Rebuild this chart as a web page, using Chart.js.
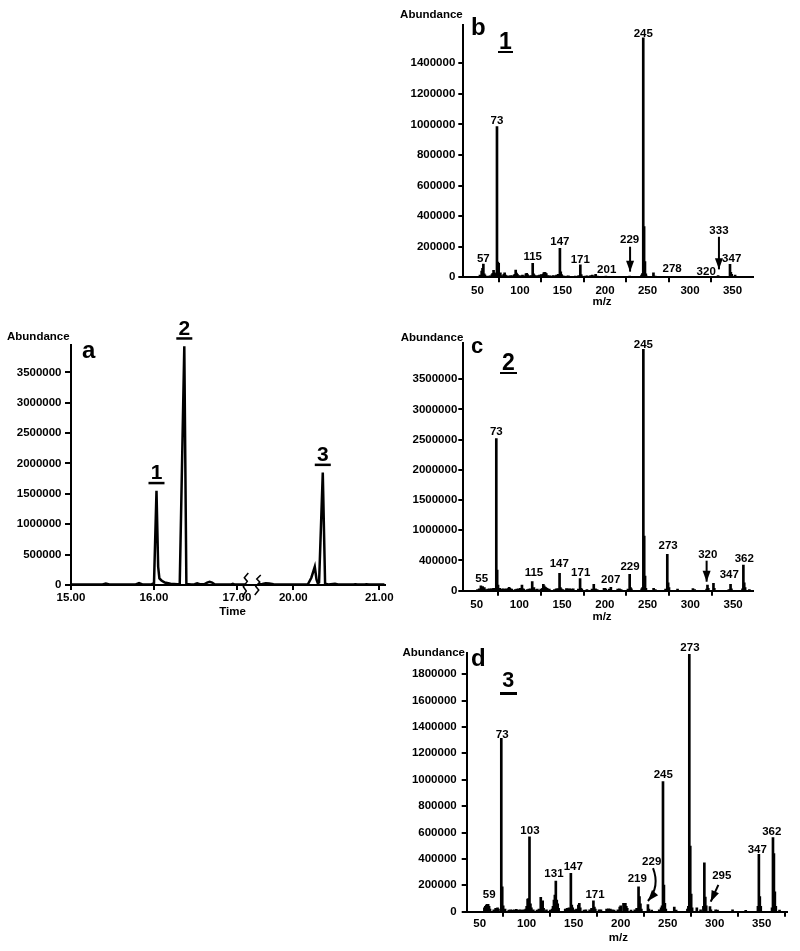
<!DOCTYPE html>
<html><head><meta charset="utf-8">
<script src="https://cdn.jsdelivr.net/npm/chart.js@4.4.1/dist/chart.umd.min.js"></script>
<style>
html,body{margin:0;padding:0;background:#fff;}
body{width:800px;height:951px;position:relative;overflow:hidden;font-family:"Liberation Sans",Arial,Helvetica,sans-serif;font-weight:bold;color:#000;}
canvas{position:absolute;}
.t{position:absolute;font-size:11.5px;line-height:11.5px;white-space:nowrap;z-index:2;}
.c{transform:translateX(-50%);}
.big{position:absolute;font-size:24px;line-height:24px;z-index:2;}
.num{position:absolute;font-size:23px;line-height:23px;z-index:2;transform:translateX(-50%);}
.ul{position:absolute;background:#000;z-index:2;}
</style></head><body>
<canvas id="ca" width="400" height="300" style="left:0;top:320px"></canvas>
<canvas id="cb" width="400" height="310" style="left:400px;top:0"></canvas>
<canvas id="cc" width="400" height="300" style="left:400px;top:320px"></canvas>
<canvas id="cd" width="400" height="321" style="left:400px;top:630px"></canvas>

<div class="t" style="left:7px;top:331px">Abundance</div>
<div class="t" style="right:337.3px;top:9.3px">Abundance</div>
<div class="t" style="right:336.7px;top:331.7px">Abundance</div>
<div class="t" style="right:335px;top:646.7px">Abundance</div>
<div class="t c" style="left:232.5px;top:606.3px">Time</div>
<div class="t c" style="left:602px;top:296px">m/z</div>
<div class="t c" style="left:602px;top:611px">m/z</div>
<div class="t c" style="left:618.3px;top:932px">m/z</div>

<div class="big" style="left:82px;top:338px">a</div>
<div class="big" style="left:471px;top:14.7px">b</div>
<div class="big" style="left:471px;top:334.7px;font-size:22px;line-height:22px">c</div>
<div class="big" style="left:471px;top:646.4px">d</div>

<div class="num" style="left:505.3px;top:29.5px">1</div>
<div class="ul" style="left:497.7px;top:50.5px;width:15.6px;height:2.5px"></div>
<div class="num" style="left:508.3px;top:350.5px">2</div>
<div class="ul" style="left:500px;top:371.5px;width:16.7px;height:2.7px"></div>
<div class="num" style="left:508.3px;top:670px;font-size:21.5px;line-height:21.5px">3</div>
<div class="ul" style="left:500px;top:692px;width:16.7px;height:2.7px"></div>

<script>
// ---------------- DATA ----------------
// (a) total ion chromatogram: retention time (min) and abundance
const chromTime  = [15.00,15.10,15.25,15.38,15.42,15.46,15.60,15.78,15.82,15.86,15.97,16.00,16.03,16.05,16.065,16.09,16.13,16.20,16.28,16.31,16.365,16.39,16.45,16.49,16.52,16.55,16.61,16.64,16.67,16.70,16.73,16.85,16.93,16.95,16.97,17.10,
                    19.59,19.64,19.68,19.72,19.77,19.90,20.10,20.17,20.21,20.25,20.27,20.285,20.30,20.343,20.37,20.41,20.485,20.52,20.70,20.72,20.75,20.83,20.85,20.88,21.06];
const chromAbund = [10000,9000,10000,9000,25000,9000,9000,9000,30000,9000,9000,30000,1550000,300000,110000,75000,40000,22000,12000,15000,3930000,15000,10000,12000,28000,12000,15000,40000,52000,40000,12000,9000,10000,18000,10000,9000,
                    10000,15000,28000,25000,12000,9000,9000,12000,120000,300000,90000,30000,40000,1850000,20000,10000,20000,10000,9000,12000,9000,9000,12000,9000,9000];
const chromTickTimes = [15, 16, 17, 20, 21];
const chromYTicks = [0,500000,1000000,1500000,2000000,2500000,3000000,3500000];
const peakNames  = ['1','2','3'];
const peakTimes  = [16.03, 16.365, 20.343];
const peakAbund  = [1550000, 3930000, 1850000];

// shared m/z ticks
const mzTicks = [50,100,150,200,250,300,350];

// (b) mass spectrum of peak 1
const specB_mz = [53,55,56,57,58,59,63,65,67,68,69,70,71,72,73,74,75,76,77,79,81,82,83,85,87,89,91,93,94,95,96,97,99,101,103,105,107,108,109,111,113,115,116,117,119,121,123,125,127,128,129,130,131,133,135,137,139,141,143,145,147,148,149,151,155,157,161,165,169,171,172,173,177,179,183,185,187,189,191,195,201,205,209,215,221,229,233,241,243,244,245,246,247,248,249,257,259,271,279,291,305,319,333,347,348,349,353,357];
const specB_ab = [15000,40000,59000,87000,22000,15000,8000,10000,18000,26000,45000,30000,12000,25000,985000,100000,92000,20000,30000,12000,20000,29000,15000,10000,8000,12000,10000,15000,20000,48000,28000,20000,12000,10000,15000,10000,22000,26000,18000,10000,12000,91000,22000,15000,10000,12000,15000,18000,20000,30000,32000,30000,25000,12000,10000,8000,12000,10000,15000,20000,190000,35000,18000,10000,8000,10000,6000,8000,12000,82000,18000,8000,8000,10000,12000,15000,10000,20000,8000,6000,8000,5000,6000,6000,5000,8000,5000,6000,15000,25000,1566000,331000,102000,22000,8000,29000,8000,5000,6000,5000,5000,5000,12000,85000,33000,20000,15000,5000];
const specB_yTicks = [0,200000,400000,600000,800000,1000000,1200000,1400000];
const specB_labelText = ['57','73','115','147','171','201','229','245','278','320','333','347'];
const specB_labelMz   = [57,73,115,147,171,202,229,245,279,319,334,349];
const specB_labelAb   = [77000,975000,86000,184000,66000,5000,195000,1548000,7000,-8000,256000,74500];

// (c) mass spectrum of peak 2
const specC_mz = [51,53,55,56,57,58,59,61,63,65,67,69,70,71,72,73,74,75,76,77,79,81,83,85,87,88,89,91,95,97,99,101,103,104,105,109,111,113,115,116,117,119,121,125,127,128,129,130,131,132,133,135,141,143,145,147,148,149,151,155,157,159,161,163,169,171,172,173,179,185,187,189,191,199,200,201,205,207,215,217,219,227,229,230,231,243,244,245,246,247,248,257,259,271,273,274,275,285,303,305,319,320,321,327,328,345,347,348,361,362,363,364,369];
const specC_ab = [20000,30000,80000,50000,70000,40000,50000,20000,25000,30000,30000,35000,40000,25000,30000,2520000,342000,94000,30000,40000,25000,30000,25000,30000,35000,55000,40000,25000,20000,25000,30000,40000,94000,30000,25000,20000,25000,30000,149000,40000,50000,20000,25000,25000,40000,105000,80000,60000,50000,40000,30000,25000,20000,30000,35000,287000,50000,30000,20000,35000,30000,30000,25000,30000,25000,199000,40000,25000,20000,25000,105000,30000,20000,40000,40000,25000,25000,55000,25000,30000,20000,25000,270000,50000,30000,30000,50000,3995000,905000,243000,40000,40000,20000,25000,601000,132000,50000,25000,35000,20000,25000,94000,40000,121000,40000,20000,105000,30000,30000,425000,132000,50000,20000];
const specC_yTicks  = [0,500000,1000000,1500000,2000000,2500000,3000000,3500000];
const specC_yLabels = ['0','400000','1000000','1500000','2000000','2500000','3000000','3500000'];
const specC_labelText = ['55','73','115','147','171','207','229','245','273','320','347','362'];
const specC_labelMz   = [55.9,73,117,146.7,171.7,206.8,229.4,245,274,320.3,345.5,363];
const specC_labelAb   = [70000,2513000,169000,318000,169000,53000,273000,3960000,616000,467000,136000,411000];

// (d) mass spectrum of peak 3
const specD_mz = [55,56,57,58,59,60,61,65,67,69,70,73,74,75,76,77,81,83,85,87,89,91,93,95,97,99,100,101,102,103,104,105,107,111,113,115,116,117,118,121,125,127,128,129,130,131,132,133,134,141,143,145,147,148,149,151,153,155,156,157,161,163,167,169,171,172,173,177,179,185,187,189,191,193,197,199,200,203,204,205,206,207,211,215,217,219,220,221,222,229,230,233,241,243,244,245,246,247,248,257,259,271,272,273,274,275,276,281,285,288,289,290,291,295,296,301,303,319,333,346,347,348,349,361,362,363,364,365,369];
const specD_ab = [30000,40000,50000,56000,56000,40000,20000,15000,25000,30000,20000,1313000,189000,45000,15000,20000,12000,15000,12000,15000,18000,12000,15000,12000,15000,20000,40000,95000,100000,568000,60000,30000,15000,12000,20000,109000,60000,83000,25000,15000,12000,20000,40000,88000,126000,232000,88000,60000,25000,20000,25000,30000,290000,50000,30000,15000,20000,50000,63000,30000,12000,15000,15000,25000,83000,35000,20000,15000,15000,20000,22000,20000,15000,12000,15000,35000,45000,63000,60000,63000,40000,25000,12000,15000,25000,189000,114000,60000,20000,53000,20000,12000,15000,30000,45000,985000,202000,63000,20000,35000,12000,20000,40000,1950000,498000,134000,30000,30000,15000,40000,371000,110000,45000,38000,15000,15000,12000,15000,10000,40000,435000,114000,40000,30000,561000,440000,150000,40000,12000];
const specD_yTicks = [0,200000,400000,600000,800000,1000000,1200000,1400000,1600000,1800000];
const specD_labelText = ['59','73','103','131','147','171','219','229','245','273','295','347','362'];
const specD_labelMz   = [60.2,74,103.5,129,149.6,172.7,217.7,233,245.3,273.7,307.5,345.3,360.7];
const specD_labelAb   = [72000,1289000,557000,229000,284000,77000,191000,324000,981000,1946000,216000,411000,552000];

// arrows (data units): start -> tip, optional control point for curves
const specB_arrows = [{x1:229.5,y1:200000,x2:229.5,y2:37000},{x1:334,y1:265000,x2:334,y2:52000}];
const specC_arrows = [{x1:319,y1:497000,x2:319,y2:149000}];
const specD_arrows = [{x1:234.4,y1:330000,cx:242,cy:190000,x2:229,y2:81000},{x1:303.9,y1:203000,x2:295.8,y2:76000}];

// ---------------- RENDER ----------------
const FONT = '"Liberation Sans", Arial, Helvetica, sans-serif';
Chart.defaults.font.family = FONT;
Chart.defaults.font.weight = 'bold';
Chart.defaults.font.size = 11.5;
Chart.defaults.color = '#000';

// broken time axis: 15-17.1 min, then 19.6-21 min
function axisPos(t){ return t <= 18 ? t : 17.678 + (t - 20) * 1.036; }

function head(ctx, x, y, ang, len, w){
  ctx.beginPath();
  ctx.moveTo(x, y);
  ctx.lineTo(x - len*Math.cos(ang) + w/2*Math.sin(ang), y - len*Math.sin(ang) - w/2*Math.cos(ang));
  ctx.lineTo(x - len*Math.cos(ang) - w/2*Math.sin(ang), y - len*Math.sin(ang) + w/2*Math.cos(ang));
  ctx.closePath(); ctx.fill();
}

function annot(texts, xsv, ysv, arrows){
  return { id:'annot', afterDatasetsDraw(chart){
    const ctx = chart.ctx, X = chart.scales.x, Y = chart.scales.y;
    ctx.save();
    ctx.fillStyle = '#000'; ctx.strokeStyle = '#000'; ctx.lineWidth = 2;
    ctx.font = 'bold 11.5px ' + FONT; ctx.textAlign = 'center'; ctx.textBaseline = 'alphabetic';
    texts.forEach((t,i)=> ctx.fillText(t, X.getPixelForValue(xsv[i]), Y.getPixelForValue(ysv[i]) - 4));
    arrows.forEach(a=>{
      const x1 = X.getPixelForValue(a.x1), y1 = Y.getPixelForValue(a.y1);
      const x2 = X.getPixelForValue(a.x2), y2 = Y.getPixelForValue(a.y2);
      ctx.beginPath(); ctx.moveTo(x1, y1);
      let ang;
      if (a.cx !== undefined){
        const cx = X.getPixelForValue(a.cx), cy = Y.getPixelForValue(a.cy);
        ctx.quadraticCurveTo(cx, cy, x2, y2);
        ang = Math.atan2(y2 - cy, x2 - cx);
      } else { ctx.lineTo(x2, y2); ang = Math.atan2(y2 - y1, x2 - x1); }
      ctx.stroke();
      head(ctx, x2, y2, ang, 11, 8);
    });
    ctx.restore();
  }};
}

function axisBase(tickLen, pad){
  return {
    grid:{display:true, drawOnChartArea:false, drawTicks:true, tickLength:tickLen, color:'#000', lineWidth:2},
    border:{display:true, color:'#000', width:2},
    ticks:{color:'#000', padding:pad, autoSkip:false, maxRotation:0, minRotation:0, font:{size:11.5, weight:'bold', family:FONT}}
  };
}

function spectrum(id, mz, ab, c){
  const xAx = axisBase(5, c.xpad);
  Object.assign(xAx, {type:'linear', min:c.xmin, max:c.xmax, offset:false,
    afterBuildTicks: s => { s.ticks = mzTicks.map(v => ({value:v})); },
    afterFit: s => { s.height = c.xh; }});
  xAx.ticks.callback = v => String(v);
  const yAx = axisBase(5, c.ypad);
  Object.assign(yAx, {type:'linear', min:0, max:c.ymax,
    afterBuildTicks: s => { s.ticks = c.yticks.map(v => ({value:v})); },
    afterFit: s => { s.width = c.yw; }});
  yAx.ticks.callback = (v, i) => c.ylabels ? c.ylabels[i] : String(v);
  return new Chart(document.getElementById(id), {
    type:'bar',
    data:{datasets:[{data: mz.map((m,i)=>({x:m, y:ab[i]})), backgroundColor:'#000', borderWidth:0, barThickness:2}]},
    options:{responsive:false, animation:false, devicePixelRatio:1,
      layout:{padding:{left:0, top:c.top, right:c.right, bottom:0}},
      plugins:{legend:{display:false}, tooltip:{enabled:false}},
      scales:{x:xAx, y:yAx}},
    plugins:[annot(c.texts, c.lx, c.ly, c.arrows)]
  });
}

spectrum('cb', specB_mz, specB_ab, {xmin:33.4, xmax:374.4, ymax:1650000, yticks:specB_yTicks,
  top:25, right:46.7, yw:63.3, xh:32.7, xpad:2, ypad:3,
  texts:specB_labelText, lx:specB_labelMz, ly:specB_labelAb, arrows:specB_arrows});
spectrum('cc', specC_mz, specC_ab, {xmin:34.4, xmax:373.6, ymax:4096000, yticks:specC_yTicks, ylabels:specC_yLabels,
  top:23.3, right:46.7, yw:63.3, xh:29.3, xpad:2, ypad:1,
  texts:specC_labelText, lx:specC_labelMz, ly:specC_labelAb, arrows:specC_arrows});
spectrum('cd', specD_mz, specD_ab, {xmin:36.2, xmax:376.6, ymax:1960000, yticks:specD_yTicks,
  top:23, right:13.3, yw:66.7, xh:39.3, xpad:0, ypad:5,
  texts:specD_labelText, lx:specD_labelMz, ly:specD_labelAb, arrows:specD_arrows});

// chromatogram
const chromData = [];
chromTime.forEach((t,i)=>{
  if (i > 0 && chromTime[i-1] < 18 && t > 18) chromData.push({x: 17.17, y: null});
  chromData.push({x: axisPos(t), y: chromAbund[i]});
});
const chromPlugin = { id:'chromAnnot', afterDatasetsDraw(chart){
  const ctx = chart.ctx, X = chart.scales.x, Y = chart.scales.y;
  ctx.save(); ctx.fillStyle = '#000'; ctx.strokeStyle = '#000';
  ctx.font = 'bold 21px ' + FONT; ctx.textAlign = 'center'; ctx.textBaseline = 'alphabetic';
  peakNames.forEach((n,i)=>{
    const px = X.getPixelForValue(axisPos(peakTimes[i])), py = Y.getPixelForValue(peakAbund[i]);
    ctx.fillRect(px - 8, py - 9, 16, 2.5);
    ctx.fillText(n, px, py - 11.5);
  });
  // axis-break squiggles
  ctx.lineWidth = 1.5;
  const yb = Y.getPixelForValue(0);
  [17.10, 17.25].forEach((u,k)=>{
    const xb = X.getPixelForValue(u);
    const h = k === 0 ? 12 : 10;
    ctx.beginPath();
    ctx.moveTo(xb - 3, yb + h);
    ctx.lineTo(xb + 1, yb + h*0.5);
    ctx.lineTo(xb - 2, yb + h*0.15);
    ctx.lineTo(xb + 2, yb - h*0.3);
    ctx.lineTo(xb - 1, yb - h*0.6);
    ctx.lineTo(xb + 3, yb - h);
    ctx.stroke();
  });
  ctx.restore();
}};
const axX = axisBase(5, 1);
Object.assign(axX, {type:'linear', min:15, max:18.783, offset:false,
  afterBuildTicks: s => { s.ticks = chromTickTimes.map(t => ({value: axisPos(t)})); },
  afterFit: s => { s.height = 35; }});
axX.ticks.callback = (v, i) => chromTickTimes[i].toFixed(2);
const axY = axisBase(6, 3.5);
Object.assign(axY, {type:'linear', min:0, max:3950000,
  afterBuildTicks: s => { s.ticks = chromYTicks.map(v => ({value:v})); },
  afterFit: s => { s.width = 71; }});
axY.ticks.callback = v => String(v);
new Chart(document.getElementById('ca'), {
  type:'line',
  data:{datasets:[{data: chromData, borderColor:'#000', borderWidth:2.5, pointRadius:0, tension:0, spanGaps:false, fill:false}]},
  options:{responsive:false, animation:false, devicePixelRatio:1,
    layout:{padding:{left:0, top:25, right:15, bottom:0}},
    plugins:{legend:{display:false}, tooltip:{enabled:false}},
    scales:{x:axX, y:axY}},
  plugins:[chromPlugin]
});
</script>
</body></html>
